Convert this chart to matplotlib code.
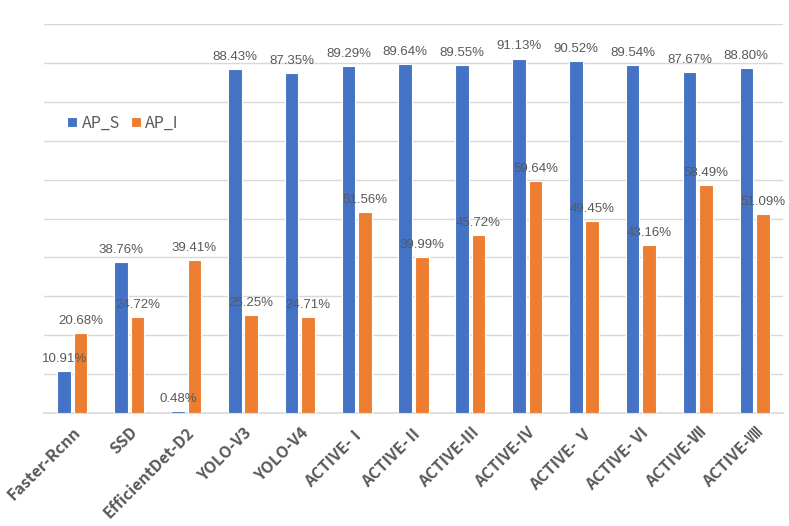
import matplotlib
matplotlib.use("Agg")
import matplotlib.pyplot as plt
import numpy as np

categories = ["Faster-Rcnn", "SSD", "EfficientDet-D2", "YOLO-V3", "YOLO-V4",
              "ACTIVE-Ⅰ", "ACTIVE-Ⅱ", "ACTIVE-Ⅲ", "ACTIVE-Ⅳ", "ACTIVE- Ⅴ",
              "ACTIVE- Ⅵ", "ACTIVE-Ⅶ", "ACTIVE-Ⅷ"]
ap_s = [10.91, 38.76, 0.48, 88.43, 87.35, 89.29, 89.64, 89.55, 91.13, 90.52, 89.54, 87.67, 88.80]
ap_i = [20.68, 24.72, 39.41, 25.25, 24.71, 51.56, 39.99, 45.72, 59.64, 49.45, 43.16, 58.49, 51.09]
series_names = ["AP_S", "AP_I"]
colors = ["#4472C4", "#ED7D31"]

plt.rcParams['font.family'] = ['Noto Sans CJK SC', 'DejaVu Sans']
gray = "#595959"

fig = plt.figure(figsize=(7.89, 5.26), dpi=100)
ax = fig.add_axes([44/789, 1-413/526, (783-44)/789, (413-24)/526])

x = np.arange(len(categories))
w = 0.24
off = 0.145
b1 = ax.bar(x - off, ap_s, w, color=colors[0], edgecolor="white", linewidth=0.8, label=series_names[0], zorder=3)
b2 = ax.bar(x + off, ap_i, w, color=colors[1], edgecolor="white", linewidth=0.8, label=series_names[1], zorder=3)

for bars, vals in ((b1, ap_s), (b2, ap_i)):
    for r, v in zip(bars, vals):
        ax.annotate(f"{v:.2f}%", (r.get_x() + r.get_width()/2, r.get_height()),
                    xytext=(0, 6.5), textcoords="offset points", ha="center", va="baseline",
                    fontsize=9.5, color=gray, family=['Liberation Sans', 'DejaVu Sans'], zorder=4)

ax.set_xlim(-0.5, len(categories) - 0.5)
ax.set_ylim(0, 100)
ax.set_yticks(np.arange(0, 101, 10))
ax.yaxis.grid(True, color="#D9D9D9", linewidth=1.0, zorder=0)
ax.tick_params(axis="y", left=False, labelleft=False)
ax.tick_params(axis="x", length=0, pad=8)
for s in ["top", "right", "left"]:
    ax.spines[s].set_visible(False)
ax.spines["bottom"].set_color("#D9D9D9")
ax.spines["bottom"].set_linewidth(1.2)

ax.set_xticks(x)
ax.set_xticklabels(categories, rotation=45, ha="right", rotation_mode="anchor",
                   fontsize=11.5, fontweight="bold", color=gray)

leg = ax.legend(loc="center left", bbox_to_anchor=(0.012, 0.745), ncol=2, frameon=False,
                fontsize=11.5, handlelength=0.6, handleheight=0.6, handletextpad=0.3,
                columnspacing=0.7, labelcolor=gray)

fig.savefig("out.png", dpi=100)
